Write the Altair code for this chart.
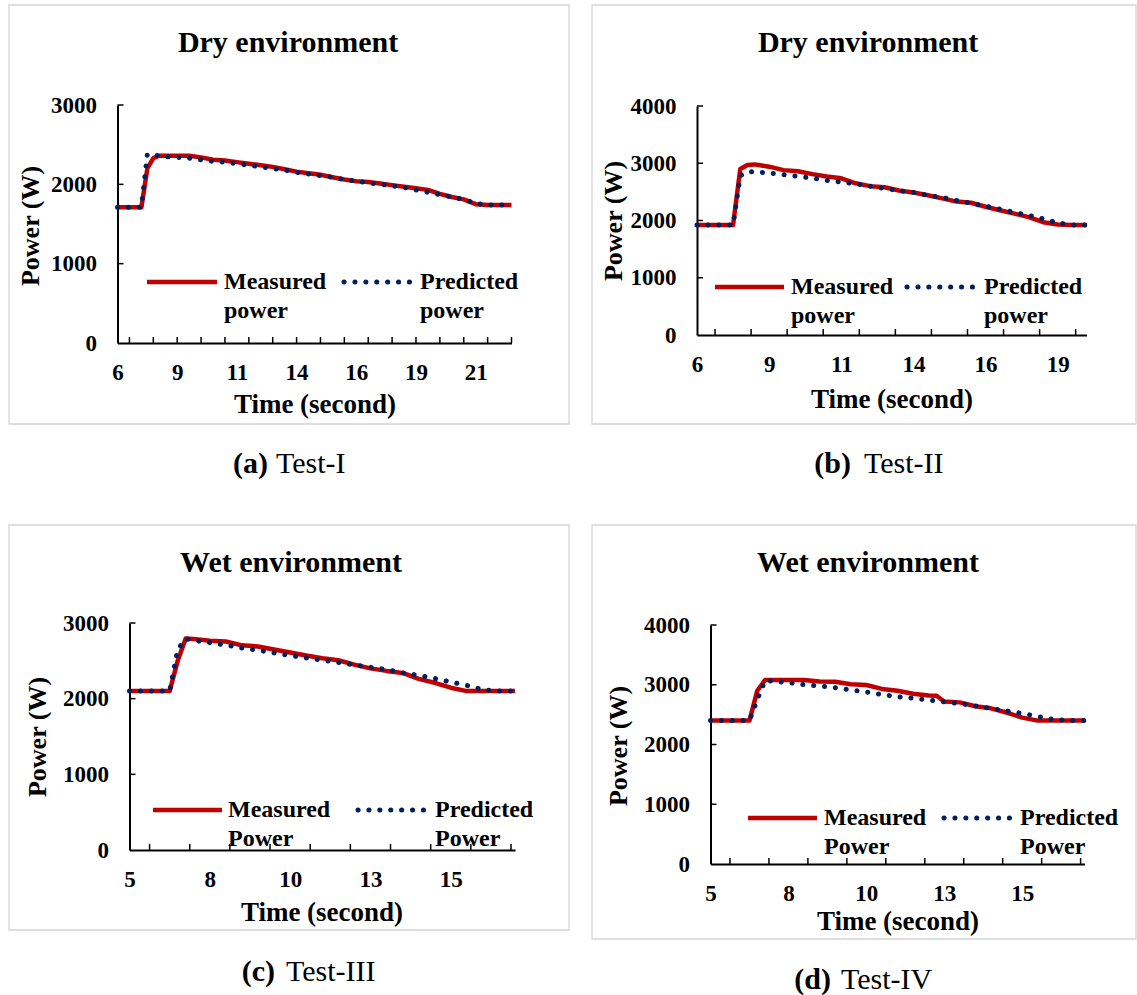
import altair as alt
import pandas as pd

FONT = "Liberation Serif"
RED = "#C00000"
NAVY = "#002060"
BORDER = "#d4d4d4"

# ---------------- data ----------------
TIME_A = [6, 6.5, 7, 7.25, 7.5, 7.75, 8, 8.5, 9, 9.5, 10, 10.5, 11, 11.5, 12, 12.5, 13, 13.5,
          14, 14.5, 15, 15.5, 16, 16.5, 17, 17.5, 18, 18.5, 19, 19.5, 20, 20.5, 21, 21.5, 22, 22.5]
MEAS_A = [1710, 1710, 1710, 2200, 2330, 2360, 2360, 2360, 2360, 2340, 2310, 2300, 2280, 2260,
          2240, 2220, 2190, 2160, 2140, 2120, 2090, 2060, 2040, 2030, 2010, 1990, 1970, 1950,
          1930, 1880, 1840, 1810, 1750, 1740, 1740, 1740]
PRED_A = [1710, 1710, 1710, 2380, 2370, 2360, 2350, 2340, 2330, 2310, 2290, 2280, 2260, 2240,
          2220, 2200, 2180, 2150, 2130, 2110, 2090, 2060, 2040, 2020, 2000, 1980, 1960, 1930,
          1900, 1870, 1840, 1810, 1760, 1740, 1740, 1740]

TIME_B = [6, 6.5, 7, 7.25, 7.5, 7.75, 8, 8.5, 9, 9.5, 10, 10.5, 11, 11.5, 12, 12.5, 13, 13.5,
          14, 14.5, 15, 15.5, 16, 16.5, 17, 17.5, 18, 18.5, 19, 19.5]
MEAS_B = [1920, 1920, 1920, 1920, 2900, 2970, 2980, 2940, 2880, 2860, 2810, 2770, 2737, 2650,
          2600, 2580, 2525, 2490, 2440, 2387, 2330, 2310, 2240, 2180, 2120, 2060, 1970, 1930,
          1920, 1920]
PRED_B = [1920, 1920, 1920, 1920, 2780, 2850, 2850, 2830, 2800, 2770, 2740, 2700, 2670, 2640,
          2600, 2560, 2520, 2490, 2440, 2400, 2350, 2300, 2250, 2200, 2140, 2090, 2030, 1960,
          1920, 1920]

TIME_C = [5, 5.5, 6, 6.25, 6.5, 6.75, 7, 7.5, 8, 8.5, 9, 9.5, 10, 10.5, 11, 11.5, 12, 12.5,
          13, 13.5, 14, 14.5, 15, 15.5, 16, 16.5, 17]
MEAS_C = [2100, 2100, 2100, 2100, 2500, 2795, 2790, 2765, 2755, 2705, 2690, 2650, 2610, 2570,
          2535, 2508, 2450, 2400, 2367, 2340, 2262, 2210, 2145, 2100, 2100, 2100, 2100]
PRED_C = [2100, 2100, 2100, 2100, 2650, 2790, 2770, 2740, 2710, 2670, 2640, 2605, 2570, 2538,
          2510, 2478, 2445, 2415, 2385, 2342, 2308, 2268, 2220, 2175, 2120, 2100, 2100]

TIME_D = [5, 5.5, 6, 6.25, 6.5, 6.75, 7, 7.5, 8, 8.5, 9, 9.5, 10, 10.5, 11, 11.5, 12, 12.25,
          12.5, 13, 13.5, 14, 14.5, 15, 15.5, 16, 16.5, 17]
MEAS_D = [2400, 2400, 2400, 2400, 2900, 3080, 3080, 3080, 3080, 3055, 3050, 3010, 2995, 2930,
          2900, 2850, 2820, 2815, 2720, 2705, 2640, 2605, 2535, 2450, 2400, 2400, 2400, 2400]
PRED_D = [2400, 2400, 2400, 2400, 2750, 3070, 3060, 3036, 3000, 2978, 2950, 2915, 2880, 2835,
          2800, 2775, 2745, 2730, 2712, 2685, 2645, 2605, 2563, 2520, 2470, 2420, 2400, 2400]

# axis tick marks and tick labels
XTICKS_A = [6.5, 7.5, 8.5, 9.5, 10.5, 11.5, 12.5, 13.5, 14.5, 15.5, 16.5, 17.5, 18.5, 19.5,
            20.5, 21.5, 22.5]
XTICKS_B = [6.625, 7.875, 9.125, 10.375, 11.625, 12.875, 14.125, 15.375, 16.625, 17.875, 19.125]
XTICKS_CD = [5.625, 6.875, 8.125, 9.375, 10.625, 11.875, 13.125, 14.375, 15.625, 16.875]
XLABELS_AB = [6, 8.5, 11, 13.5, 16, 18.5, 21]
XLABELS_CD = [5, 7.5, 10, 12.5, 15]
YTICKS_3K = [0, 1000, 2000, 3000]
YTICKS_4K = [0, 1000, 2000, 3000, 4000]

TITLES = ["Dry environment", "Dry environment", "Wet environment", "Wet environment"]
TAGS = ["(a)", "(b)", "(c)", "(d)"]
CAPTIONS = ["Test-I", "Test-II", "Test-III", "Test-IV"]
YTITLE = "Power (W)"
XTITLE = "Time (second)"
LEG_MEAS = [["Measured", "power"], ["Measured", "power"], ["Measured", "Power"], ["Measured", "Power"]]
LEG_PRED = [["Predicted", "power"], ["Predicted", "power"], ["Predicted", "Power"], ["Predicted", "Power"]]

ONE = pd.DataFrame({"k": [0]})


def text(s, x, y, size, weight="bold", align="center", angle=0):
    return alt.Chart(ONE).mark_text(
        text=s, font=FONT, fontSize=size, fontWeight=weight, align=align,
        baseline="middle", angle=angle, color="black"
    ).encode(x=alt.value(x), y=alt.value(y))


def panel(i, time, meas, pred, xdom, ydom, xticks, xlabels, yticks, cw, ch, lay):
    # every position below is in pixels inside this panel's own cell (cw x ch)
    x0, x1 = lay["xr"]
    yb, yt = lay["yr"]
    df = pd.DataFrame({"t": time, "measured": meas, "predicted": pred})
    xs = alt.Scale(domain=xdom, range=[x0, x1], nice=False, zero=False)
    ys = alt.Scale(domain=ydom, range=[yb, yt], nice=False)
    xaxis = alt.Axis(values=xlabels, labelExpr="'' + round(datum.value)", title=None,
                     ticks=False, tickSize=0, grid=False, domainColor="black", domainWidth=2,
                     labelFont=FONT, labelFontSize=23, labelFontWeight="bold", labelColor="black",
                     labelPadding=18, labelFlush=False, labelOverlap=False,
                     offset=yb - ch)
    yaxis = alt.Axis(values=yticks, format="d", title=None, ticks=False, tickSize=0, grid=False,
                     domainColor="black", domainWidth=2, labelFont=FONT, labelFontSize=23,
                     labelFontWeight="bold", labelColor="black", labelPadding=21,
                     labelOverlap=False, offset=-x0)

    cell = alt.Chart(ONE).mark_rect(opacity=0).encode(
        x=alt.value(0), x2=alt.value(cw), y=alt.value(0), y2=alt.value(ch))
    bx = lay["border"]
    border = alt.Chart(ONE).mark_rect(fillOpacity=0, stroke=BORDER, strokeWidth=1.3).encode(
        x=alt.value(bx[0]), x2=alt.value(bx[1]), y=alt.value(bx[2]), y2=alt.value(bx[3]))

    base = alt.Chart(df)
    meas_line = base.mark_line(color=RED, strokeWidth=4.5, strokeJoin="round").encode(
        x=alt.X("t:Q", scale=xs, axis=xaxis),
        y=alt.Y("measured:Q", scale=ys, axis=yaxis))
    pred_line = base.mark_line(color=NAVY, strokeWidth=5, strokeDash=[0.1, 10.8],
                               strokeCap="round").encode(
        x=alt.X("t:Q", scale=xs, axis=xaxis),
        y=alt.Y("predicted:Q", scale=ys, axis=yaxis))

    xtick_marks = alt.Chart(pd.DataFrame({"t": xticks})).mark_rule(
        color="black", strokeWidth=1.5).encode(
        x=alt.X("t:Q", scale=xs, axis=xaxis), y=alt.value(yb), y2=alt.value(yb - 6))
    ytick_marks = alt.Chart(pd.DataFrame({"v": yticks[1:]})).mark_rule(
        color="black", strokeWidth=1.5).encode(
        y=alt.Y("v:Q", scale=ys, axis=yaxis), x=alt.value(x0), x2=alt.value(x0 + 6))

    lx = lay["legend"]
    leg_y = lx["y"]
    leg_red = alt.Chart(ONE).mark_rule(color=RED, strokeWidth=4.5).encode(
        x=alt.value(lx["red"][0]), x2=alt.value(lx["red"][1]), y=alt.value(leg_y))
    leg_dot = alt.Chart(ONE).mark_rule(color=NAVY, strokeWidth=5, strokeDash=[0.1, 10.8],
                                       strokeCap="round").encode(
        x=alt.value(lx["dot"][0]), x2=alt.value(lx["dot"][1]), y=alt.value(leg_y))

    layers = [cell, border, meas_line, pred_line, xtick_marks, ytick_marks, leg_red, leg_dot,
              text(LEG_MEAS[i][0], lx["mtext"], leg_y, 24, align="left"),
              text(LEG_MEAS[i][1], lx["mtext"], leg_y + 29, 24, align="left"),
              text(LEG_PRED[i][0], lx["ptext"], leg_y, 24, align="left"),
              text(LEG_PRED[i][1], lx["ptext"], leg_y + 29, 24, align="left"),
              text(TITLES[i], lay["title"][0], lay["title"][1], 30),
              text(YTITLE, lay["ytitle"][0], lay["ytitle"][1], 26, angle=270),
              text(XTITLE, lay["xtitle"][0], lay["xtitle"][1], 27),
              text(TAGS[i], lay["cap"][0], lay["cap"][2], 30, align="right"),
              text(CAPTIONS[i], lay["cap"][1], lay["cap"][2], 30, weight="normal", align="left")]
    return alt.layer(*layers).properties(width=cw, height=ch)


A = panel(0, TIME_A, MEAS_A, PRED_A, [6, 22.5], [0, 3000], XTICKS_A, XLABELS_AB, YTICKS_3K,
          580, 500,
          dict(xr=(117.5, 511.5), yr=(343, 105), border=(9, 569, 5, 424),
               title=(288, 43), ytitle=(31, 226), xtitle=(315, 405),
               legend=dict(y=282, red=(147, 217), mtext=224, dot=(344, 413), ptext=420),
               cap=(268, 276, 464)))
B = panel(1, TIME_B, MEAS_B, PRED_B, [6, 19.5], [0, 4000], XTICKS_B, XLABELS_AB, YTICKS_4K,
          557, 500,
          dict(xr=(117, 506.5), yr=(335, 106), border=(12, 556, 5, 424),
               title=(288, 43), ytitle=(34, 221), xtitle=(312, 400),
               legend=dict(y=287, red=(135, 204), mtext=211, dot=(327, 396), ptext=404),
               cap=(271, 284, 464)))
C = panel(2, TIME_C, MEAS_C, PRED_C, [5, 17], [0, 3000], XTICKS_CD, XLABELS_CD, YTICKS_3K,
          580, 495,
          dict(xr=(129.5, 515), yr=(350, 123), border=(9, 569, 25, 430),
               title=(291, 63), ytitle=(38, 237), xtitle=(322, 413),
               legend=dict(y=310, red=(153, 222), mtext=228, dot=(358, 428), ptext=435),
               cap=(275, 286, 472)))
D = panel(3, TIME_D, MEAS_D, PRED_D, [5, 17], [0, 4000], XTICKS_CD, XLABELS_CD, YTICKS_4K,
          557, 495,
          dict(xr=(130.5, 504.5), yr=(364, 125), border=(12, 556, 25, 439),
               title=(288, 63), ytitle=(39, 246), xtitle=(318, 422),
               legend=dict(y=318, red=(168, 237), mtext=244, dot=(364, 433), ptext=440),
               cap=(251, 261, 480)))

chart = alt.concat(A, B, C, D, columns=2, spacing=0, bounds="flush").properties(
    padding=0, background="white"
).configure_view(strokeWidth=0)

chart.save("out.html", embed_options={"renderer": "svg", "actions": False})
